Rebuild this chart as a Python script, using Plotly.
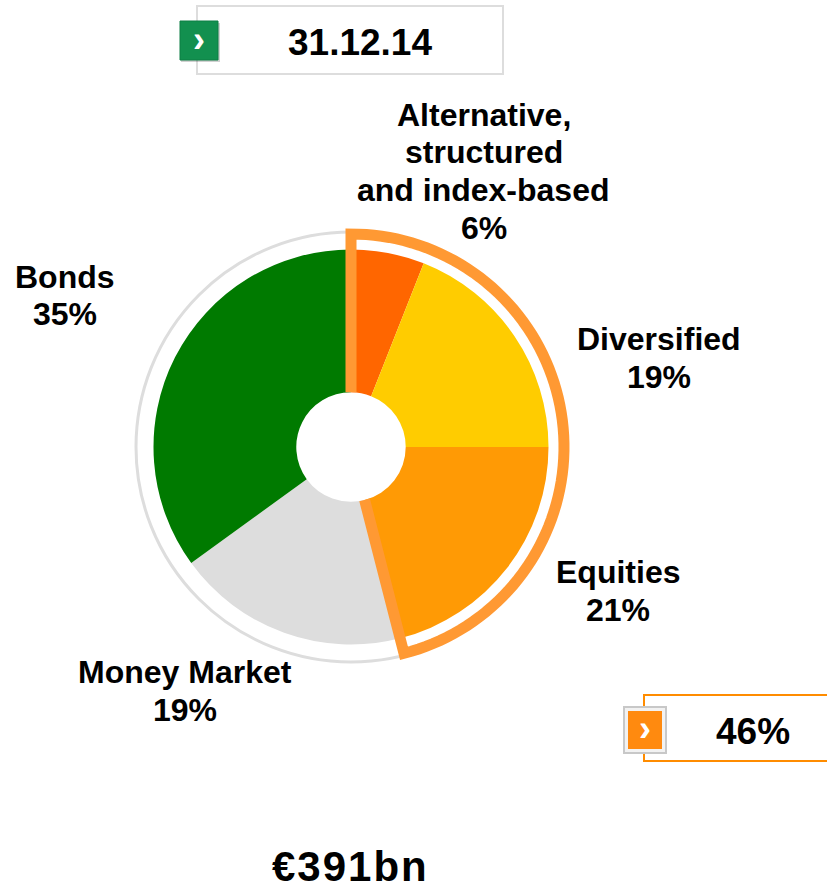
import math
import plotly.graph_objects as go

# Asset mix by category (share of total, %)
categories = ["Alternative,\nstructured\nand index-based", "Diversified", "Equities",
              "Money Market", "Bonds"]
shares = [6, 19, 21, 19, 35]
colors = ["#FF6600", "#FFCC00", "#FF9A05", "#DDDDDD", "#007A00"]
highlight = ["Alternative,\nstructured\nand index-based", "Diversified", "Equities"]
date_label = "31.12.14"
total_label = "€391bn"

W, H = 827, 889
CX, CY, R = 351, 447, 197.5
HOLE = 0.277
FONT = "Liberation Sans, Arial, sans-serif"


def px(x):
    return x / W


def py(y):
    return 1 - y / H


fig = go.Figure()
fig.add_trace(go.Pie(
    labels=[c.replace("\n", " ") for c in categories],
    values=shares,
    marker=dict(colors=colors, line=dict(width=0)),
    hole=HOLE,
    sort=False,
    direction="clockwise",
    rotation=0,
    textinfo="none",
    showlegend=False,
    domain=dict(x=[px(CX - R), px(CX + R)], y=[py(CY + R), py(CY - R)]),
))

shapes = []
# thin grey ring around the donut
RING = 215
shapes.append(dict(type="circle", xref="paper", yref="paper",
                   x0=px(CX - RING), x1=px(CX + RING), y0=py(CY + RING), y1=py(CY - RING),
                   line=dict(color="#DDDDDD", width=3), layer="above"))

# outline around the highlighted group of slices
hl_share = sum(s for c, s in zip(categories, shares) if c in highlight)
theta_end = 360 * hl_share / sum(shares)
r_in, r_out = R * HOLE, 213


def pt(r, deg):
    a = math.radians(deg)
    return px(CX + r * math.sin(a)), py(CY - r * math.cos(a))


pts = [pt(r_in, 0)]
n = 80
for i in range(n + 1):
    pts.append(pt(r_out, theta_end * i / n))
pts.append(pt(r_in, theta_end))
path = "M " + " L ".join(f"{x:.5f},{y:.5f}" for x, y in pts)
shapes.append(dict(type="path", xref="paper", yref="paper", path=path,
                   line=dict(color="#FF9933", width=11), layer="above"))

# date box with green marker
shapes.append(dict(type="rect", xref="paper", yref="paper",
                   x0=px(197), x1=px(503), y0=py(74), y1=py(6),
                   line=dict(color="#DDDDDD", width=2), fillcolor="white"))
shapes.append(dict(type="rect", xref="paper", yref="paper",
                   x0=px(181), x1=px(220), y0=py(62), y1=py(23),
                   line=dict(width=0), fillcolor="rgba(0,0,0,0.18)"))
shapes.append(dict(type="rect", xref="paper", yref="paper",
                   x0=px(180), x1=px(218), y0=py(60), y1=py(21),
                   line=dict(color="#0C7F44", width=1), fillcolor="#12904F"))

# share box with orange marker
shapes.append(dict(type="rect", xref="paper", yref="paper",
                   x0=px(644), x1=px(840), y0=py(761), y1=py(695),
                   line=dict(color="#FF8C00", width=2), fillcolor="white"))
shapes.append(dict(type="rect", xref="paper", yref="paper",
                   x0=px(624), x1=px(666), y0=py(753), y1=py(707),
                   line=dict(color="#C8C8C8", width=2), fillcolor="#F2F2F2"))
shapes.append(dict(type="rect", xref="paper", yref="paper",
                   x0=px(628), x1=px(662), y0=py(749), y1=py(711),
                   line=dict(width=0), fillcolor="#FF8A0F"))

annotations = []


def label(text, x, y, size=32, color="black"):
    annotations.append(dict(text=f"<b>{text}</b>", x=px(x), y=py(y), xref="paper", yref="paper",
                            xanchor="center", yanchor="middle", showarrow=False,
                            font=dict(family=FONT, size=size, color=color)))


# label centre x and first-line y for each slice, line pitch in pixels
label_pos = {
    "Alternative,\nstructured\nand index-based": (484, 115),
    "Diversified": (659, 339),
    "Equities": (618, 572),
    "Money Market": (185, 672),
    "Bonds": (65, 277),
}
PITCH = 37.5
for c, s in zip(categories, shares):
    x, y0 = label_pos[c]
    lines = c.split("\n") + [f"{s}%"]
    for i, ln in enumerate(lines):
        label(ln, x, y0 + i * PITCH)

label(date_label, 360, 42, size=37)
label(f"{hl_share}%", 753, 731, size=37)
label("›", 199, 39, size=36, color="white")
label("›", 645, 728, size=36, color="white")
annotations.append(dict(text=f'<b><span style="letter-spacing:2px">{total_label}</span></b>',
                        x=px(350), y=py(866), xref="paper", yref="paper",
                        xanchor="center", yanchor="middle", showarrow=False,
                        font=dict(family=FONT, size=42, color="black")))

fig.update_layout(
    width=W, height=H, autosize=False,
    margin=dict(l=0, r=0, t=0, b=0),
    paper_bgcolor="white", plot_bgcolor="white",
    shapes=shapes, annotations=annotations,
)

fig.write_html("out.html")
